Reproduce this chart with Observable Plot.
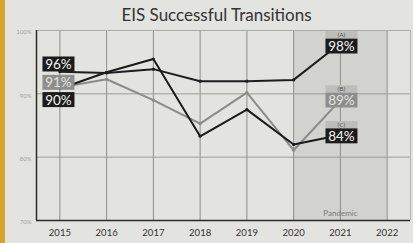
<!DOCTYPE html>
<html><head><meta charset="utf-8">
<script src="https://cdn.jsdelivr.net/npm/d3@7"></script>
<script src="https://cdn.jsdelivr.net/npm/@observablehq/plot@0.6"></script>
<style>
html,body{margin:0;padding:0;background:#e3e3e0;}
body{width:413px;height:243px;position:relative;overflow:hidden;font-family:Lato,"Open Sans",sans-serif;}
#strip{position:absolute;left:0;top:0;width:5px;height:243px;background:#d8a52c;}
#title{height:28px;line-height:30px;text-align:center;font-size:17px;color:#333;padding-left:20px;box-sizing:border-box;}
#chart svg{display:block;}
</style></head>
<body>
<div id="strip"></div>
<div id="title">EIS Successful Transitions</div>
<div id="chart"></div>
<script>
const years = [2015, 2016, 2017, 2018, 2019, 2020, 2021];
const seriesA = [93.5, 93.3, 93.9, 92.0, 92.0, 92.2, 98];
const seriesB = [91.0, 92.3, 89.0, 85.3, 90.2, 81.1, 89];
const seriesC = [90.8, 93.4, 95.5, 83.3, 87.5, 82.0, 83.5];
const seriesNames = ["A", "B", "C"];
const startLabels = ["96%", "91%", "90%"];
const endLabels = ["98%", "89%", "84%"];
const endTags = ["(A)", "(B)", "(C)"];
const xTicks = [2015, 2016, 2017, 2018, 2019, 2020, 2021, 2022];
const yTicks = [70, 80, 90, 100];
const pandemicStart = 2020, pandemicEnd = 2022, pandemicLabel = "Pandemic", pandemicLabelYear = 2021;

const allSeries = [seriesA, seriesB, seriesC];
const rows = [];
allSeries.forEach((s, i) => years.forEach((y, j) => rows.push({series: seriesNames[i], year: y, value: s[j]})));
const rowsOf = k => rows.filter(r => r.series === k);

const first = years[0], last = years[years.length - 1];
const startRows = seriesNames.map((k, i) => ({series: k, year: first, value: allSeries[i][0], label: startLabels[i]}));
const endRows = seriesNames.map((k, i) => ({series: k, year: last, value: allSeries[i][years.length - 1], label: endLabels[i], tag: endTags[i]}));

const startDy = {A: -7, B: -4.5, C: 11.5};
const endDy = {A: 3.5, B: 0.5, C: 1.5};
const styleOf = {A: "black", B: "gray", C: "black"};

const marks = [
  Plot.rect([{a: pandemicStart, b: pandemicEnd}], {x1: "a", x2: "b", y1: yTicks[0], y2: yTicks[yTicks.length-1], fill: "#d2d2cf"}),
  Plot.gridX(xTicks, {stroke: "#8e8e8b", strokeOpacity: 1, strokeWidth: 1}),
  Plot.gridY([80, 90], {stroke: "#9c9c99", strokeOpacity: 1, strokeWidth: 1}),
  Plot.ruleY([100], {stroke: "#a9a9a6", strokeWidth: 1}),
  Plot.ruleX([2022.5], {stroke: "#b5b5b2", strokeWidth: 1}),
  Plot.ruleX([2014.5], {stroke: "#2a2a2a", strokeWidth: 1.5}),
  Plot.ruleY([70], {stroke: "#2a2a2a", strokeWidth: 1.5}),
  Plot.text([{x: pandemicLabelYear, y: yTicks[0], t: pandemicLabel}], {x: "x", y: "y", text: "t", dy: -7, fontSize: 8, fill: "#7a7a78"}),
  Plot.line(rowsOf("B"), {x: "year", y: "value", stroke: "#8b8b89", strokeWidth: 2}),
  Plot.dot(rowsOf("B"), {x: "year", y: "value", fill: "#8b8b89", r: 1.6}),
  Plot.line(rowsOf("A"), {x: "year", y: "value", stroke: "#1e1e1e", strokeWidth: 2}),
  Plot.dot(rowsOf("A"), {x: "year", y: "value", fill: "#1e1e1e", r: 1.6}),
  Plot.line(rowsOf("C"), {x: "year", y: "value", stroke: "#1a1a1a", strokeWidth: 2}),
  Plot.dot(rowsOf("C"), {x: "year", y: "value", fill: "#1a1a1a", r: 1.6}),
];
for (const r of startRows) {
  marks.push(Plot.text([r], {x: "year", y: "value", text: "label", dx: -1.5, dy: startDy[r.series], fontSize: 13.5, fill: styleOf[r.series] === "gray" ? "#e2e2e0" : "#f4f4f2", ariaDescription: "lbl-" + styleOf[r.series]}));
}
for (const r of endRows) {
  marks.push(Plot.text([r], {x: "year", y: "value", text: "label", dx: 1, dy: endDy[r.series], fontSize: 13.5, fill: styleOf[r.series] === "gray" ? "#e2e2e0" : "#f4f4f2", ariaDescription: "lbl-" + styleOf[r.series]}));
  marks.push(Plot.text([r], {x: "year", y: "value", text: "tag", dx: 1, dy: endDy[r.series] - 11.5, fontSize: 6.5, fill: "#555", ariaDescription: "lbl-tag"}));
}

const chart = Plot.plot({
  width: 413, height: 215,
  marginTop: 2, marginBottom: 23, marginLeft: 36, marginRight: 3,
  style: {background: "transparent", fontFamily: "Lato, 'Open Sans', sans-serif"},
  x: {domain: [2014.5, 2022.5], label: null},
  y: {domain: [70, 100], label: null},
  marks: [
    ...marks,
    Plot.axisX(xTicks, {tickSize: 0, tickPadding: 9, fontSize: 9.5, fill: "#333", tickFormat: d => String(d), label: null}),
    Plot.axisY(yTicks, {tickSize: 0, tickPadding: 5, dy: 2, fontSize: 6, fill: "#a5a5a2", tickFormat: d => d + "%", label: null}),
  ]
});
document.getElementById("chart").appendChild(chart);

const boxStyle = {
  "lbl-black": {fill: "#1c1c1c", w: 32, h: 15},
  "lbl-gray": {fill: "#8e8e8c", w: 32, h: 15},
  "lbl-tag": {fill: "#bdbdba", w: 32, h: 7},
};
for (const [k, st] of Object.entries(boxStyle)) {
  chart.querySelectorAll(`g[aria-description="${k}"] text, text[aria-description="${k}"]`).forEach(t => {
    const b = t.getBBox();
    const rect = document.createElementNS("http://www.w3.org/2000/svg", "rect");
    rect.setAttribute("x", b.x + b.width / 2 - st.w / 2);
    rect.setAttribute("y", b.y + b.height / 2 - st.h / 2);
    rect.setAttribute("width", st.w);
    rect.setAttribute("height", st.h);
    rect.setAttribute("fill", st.fill);
    const tr = t.getAttribute("transform");
    if (tr) rect.setAttribute("transform", tr);
    t.parentNode.insertBefore(rect, t);
  });
}
</script>
</body></html>
